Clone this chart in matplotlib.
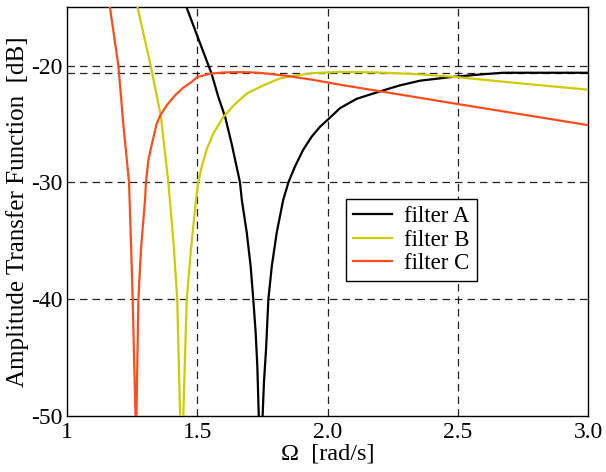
import matplotlib
matplotlib.use("Agg")
import matplotlib.pyplot as plt

plt.rcParams['font.family'] = ['Liberation Serif', 'DejaVu Serif']
plt.rcParams['axes.unicode_minus'] = False

# --- data (Omega in rad/s, amplitude in dB)
omega_a = [1.421, 1.4595, 1.504, 1.555, 1.581, 1.607, 1.632, 1.651, 1.664, 1.671, 1.690,
           1.705, 1.715, 1.724, 1.7305, 1.736, 1.7435,
           1.751, 1.756, 1.764, 1.773, 1.786, 1.805, 1.830, 1.850, 1.875, 1.907, 1.939,
           1.971, 2.010, 2.048, 2.112, 2.189, 2.278, 2.355, 2.470, 2.585, 2.674, 3.0]
gain_a = [-12.8, -15.06, -17.7, -20.7, -22.7, -24.4, -26.7, -28.65, -30.0, -31.5, -34.3,
          -37.2, -40.0, -42.8, -45.7, -49.9, -53.6,
          -49.9, -47.1, -44.3, -40.0, -37.2, -34.3, -31.5, -30.0, -28.65, -27.2, -26.1,
          -25.25, -24.45, -23.65, -22.85, -22.3, -21.7, -21.3, -21.0, -20.77, -20.62, -20.62]

omega_b = [1.248, 1.271, 1.321, 1.360, 1.389, 1.410, 1.423, 1.434, 1.4397, 1.4464, 1.4595,
           1.476, 1.495, 1.504, 1.517, 1.536, 1.562, 1.600, 1.645, 1.690, 1.754, 1.818,
           1.882, 1.946, 2.05, 2.2, 2.35, 2.5, 2.75, 3.0]
gain_b = [-12.8, -15.06, -20.0, -24.3, -30.0, -35.5, -40.0, -49.9, -55.2, -49.9, -40.0,
          -35.7, -31.5, -30.0, -28.65, -27.2, -25.8, -24.4, -23.3, -22.4, -21.7, -21.1,
          -20.85, -20.65, -20.55, -20.6, -20.75, -21.0, -21.55, -22.07]

omega_c = [1.150, 1.165, 1.197, 1.216, 1.238, 1.246, 1.252, 1.265,
           1.274, 1.284, 1.2994, 1.303, 1.312, 1.329, 1.344, 1.357, 1.383, 1.415, 1.446,
           1.479, 1.499, 1.55, 1.60, 1.65, 1.70, 1.75, 1.85, 1.95, 2.05, 2.2, 2.35, 2.5,
           2.75, 3.0]
gain_c = [-12.9, -15.06, -20.0, -25.0, -30.0, -35.5, -40.0, -52.0,
          -40.0, -35.7, -31.5, -30.0, -28.1, -26.4, -25.0, -24.3, -23.4, -22.55, -21.9,
          -21.4, -21.0, -20.7, -20.6, -20.57, -20.58, -20.65, -20.9, -21.25, -21.65, -22.2,
          -22.75, -23.3, -24.2, -25.1]

names = ['filter A', 'filter B', 'filter C']
colors = ['black', '#cccc00', '#ff4d1f']

x_grid = [1.5, 2.0, 2.5]
y_grid = [-20, -20.6, -30, -40]
x_ticks = [1, 1.5, 2.0, 2.5, 3.0]
x_ticklabels = ['1', '1.5', '2.0', '2.5', '3.0']
y_ticks = [-20, -30, -40, -50]

fig = plt.figure(figsize=(6.06, 4.72), dpi=100)
ax = fig.add_axes([0.1106, 0.1186, 0.8597, 0.8664])

for xv in x_grid:
    ax.axvline(xv, color='#222222', lw=0.9, ls=(0, (6, 4)), zorder=1)
for yv in y_grid:
    ax.axhline(yv, color='#222222', lw=0.9, ls=(0, (6, 4)), zorder=1)

for om, g, name, c in zip([omega_a, omega_b, omega_c], [gain_a, gain_b, gain_c], names, colors):
    ax.plot(om, g, color=c, lw=1.6, label=name, zorder=3)

ax.set_xlim(1, 3)
ax.set_ylim(-50, -15)
ax.set_xticks(x_ticks)
ax.set_xticklabels(x_ticklabels)
ax.set_yticks(y_ticks)
ax.tick_params(axis='both', length=0, labelsize=17)
ax.tick_params(axis='y', pad=3)
ax.tick_params(axis='x', pad=4)
for s in ax.spines.values():
    s.set_linewidth(1.0)

ax.set_xlabel('Ω  [rad/s]', fontsize=17.5, labelpad=1)
ax.set_ylabel('Amplitude Transfer Function  [dB]', fontsize=18, labelpad=2)

leg = ax.legend(loc='upper left', bbox_to_anchor=(0.535, 0.530), fontsize=16.5,
                frameon=True, fancybox=False, framealpha=1, edgecolor='black',
                handlelength=1.7, borderpad=0.3, labelspacing=0.1, handletextpad=0.55,
                borderaxespad=0)
leg.get_frame().set_linewidth(1.0)

fig.savefig('out.png', dpi=100)
